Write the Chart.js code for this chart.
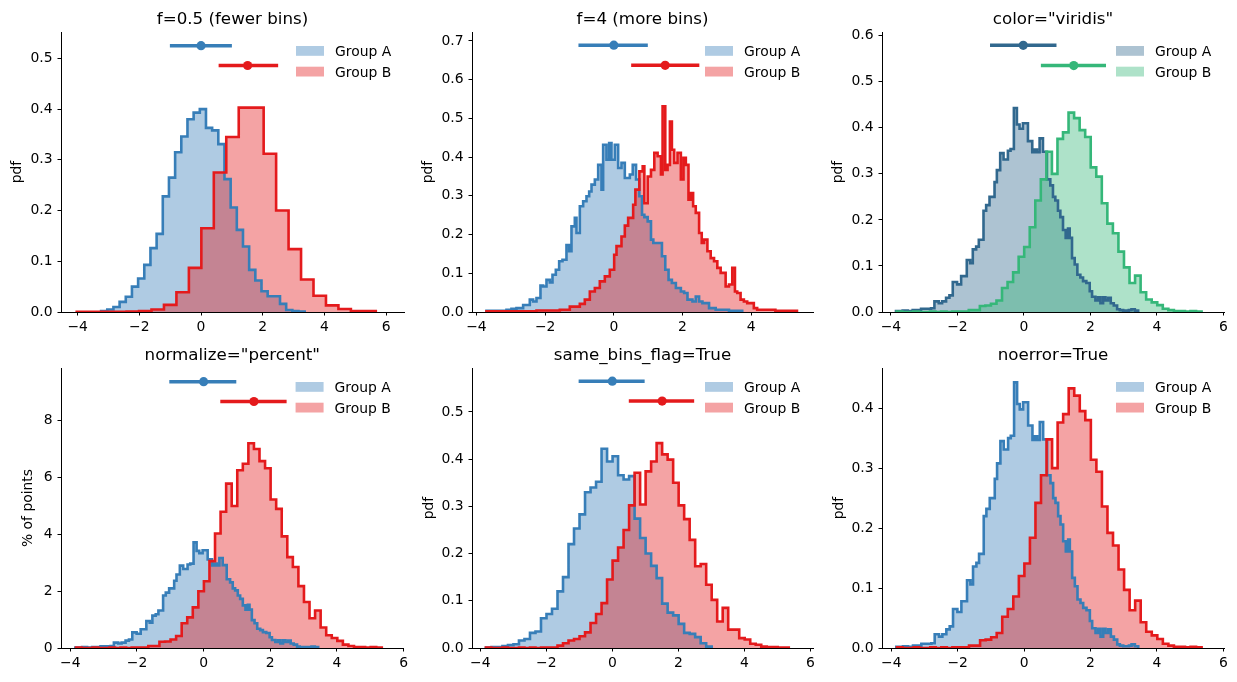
<!DOCTYPE html>
<html>
<head>
<meta charset="utf-8">
<script src="https://cdn.jsdelivr.net/npm/chart.js"></script>
<style>
  body { margin: 0; background: #fff; width: 1237px; height: 682px; position: relative; overflow: hidden; }
  canvas { position: absolute; }
</style>
</head>
<body>
<canvas id="p1"></canvas>
<canvas id="p2"></canvas>
<canvas id="p3"></canvas>
<canvas id="p4"></canvas>
<canvas id="p5"></canvas>
<canvas id="p6"></canvas>
<script>
// ---- tick labels ----
var xTicksWide = [-4, -2, 0, 2, 4, 6];
var xTicksShort = [-4, -2, 0, 2, 4];
var yTicksP1 = [0, 0.1, 0.2, 0.3, 0.4, 0.5];
var yTicksP2 = [0, 0.1, 0.2, 0.3, 0.4, 0.5, 0.6, 0.7];
var yTicksP3 = [0, 0.1, 0.2, 0.3, 0.4, 0.5, 0.6];
var yTicksP4 = [0, 2, 4, 6, 8];
var yTicksP5 = [0, 0.1, 0.2, 0.3, 0.4, 0.5];
var yTicksP6 = [0, 0.1, 0.2, 0.3, 0.4];

var titles = ['f=0.5 (fewer bins)', 'f=4 (more bins)', 'color="viridis"', 'normalize="percent"', 'same_bins_flag=True', 'noerror=True'];
var groups = ['Group A', 'Group B'];

// ---- panel 1: f=0.5, wide bins ----
var fewA_start = -3.24, fewA_width = 0.2;
var fewA_pdf = [0.002, 0.005, 0.01, 0.02, 0.03, 0.05, 0.066, 0.093, 0.126, 0.154, 0.228, 0.265, 0.315, 0.346, 0.38, 0.393, 0.40,
  0.363, 0.358, 0.331, 0.262, 0.206, 0.162, 0.129, 0.083, 0.062, 0.041, 0.031, 0.031, 0.016, 0.004, 0.002, 0.001];
var fewB_start = -4.03, fewB_width = 0.404;
var fewB_pdf = [0.0005, 0.0005, 0.0005, 0.0005, 0.001, 0.002, 0.005, 0.014, 0.039, 0.087, 0.165, 0.275, 0.345, 0.403, 0.403,
  0.312, 0.2, 0.124, 0.064, 0.032, 0.013, 0.006, 0.002, 0.002];

// ---- panel 2: f=4, narrow bins (read as runs of steps) ----
var moreA_edges = [-3.709, -3.126, -2.981, -2.835, -2.641, -2.447, -2.350, -2.252, -2.136, -2.058, -1.961, -1.864, -1.786, -1.689,
  -1.592, -1.495, -1.379, -1.301, -1.233, -1.136, -1.087, -0.990, -0.893, -0.796, -0.718, -0.650, -0.553, -0.456, -0.359, -0.311,
  -0.214, -0.136, -0.068, 0.029, 0.126, 0.223, 0.320, 0.466, 0.551, 0.647, 0.744, 0.821, 0.889, 0.986, 1.082, 1.150, 1.401, 1.498,
  1.594, 1.691, 1.807, 1.952, 2.048, 2.145, 2.290, 2.386, 2.483, 2.580, 2.773, 2.966, 3.353, 3.739];
var moreA_pdf = [0.003, 0.006, 0.008, 0.01, 0.018, 0.032, 0.027, 0.036, 0.068, 0.066, 0.083, 0.076, 0.096, 0.109, 0.131, 0.135,
  0.173, 0.157, 0.221, 0.243, 0.204, 0.273, 0.286, 0.299, 0.311, 0.329, 0.342, 0.38, 0.316, 0.432, 0.393, 0.436, 0.393, 0.432,
  0.372, 0.385, 0.346, 0.355, 0.38, 0.342, 0.299, 0.251, 0.245, 0.234, 0.187, 0.178, 0.144, 0.109, 0.083, 0.075, 0.062, 0.053,
  0.049, 0.032, 0.027, 0.04, 0.027, 0.023, 0.01, 0.006, 0.003];
var moreB_edges = [-3.709, -2.252, -1.573, -1.282, -0.990, -0.845, -0.699, -0.553, -0.408, -0.262, -0.117, 0.010, 0.078, 0.223,
  0.320, 0.417, 0.563, 0.628, 0.744, 0.841, 0.889, 0.986, 1.082, 1.179, 1.275, 1.372, 1.420, 1.498, 1.565, 1.633, 1.691, 1.758,
  1.855, 1.952, 2.029, 2.097, 2.174, 2.242, 2.309, 2.386, 2.483, 2.560, 2.628, 2.725, 2.821, 2.918, 3.014, 3.111, 3.256, 3.353,
  3.449, 3.527, 3.594, 3.691, 3.787, 3.884, 4.077, 4.174, 4.705, 5.333];
var moreB_pdf = [0.002, 0.004, 0.006, 0.014, 0.021, 0.032, 0.053, 0.062, 0.079, 0.092, 0.109, 0.148, 0.17, 0.195, 0.223, 0.243,
  0.277, 0.316, 0.363, 0.376, 0.281, 0.35, 0.367, 0.411, 0.402, 0.355, 0.531, 0.367, 0.38, 0.492, 0.419, 0.385, 0.411, 0.342,
  0.398, 0.38, 0.29, 0.307, 0.273, 0.256, 0.204, 0.178, 0.187, 0.157, 0.139, 0.131, 0.114, 0.101, 0.066, 0.071, 0.114, 0.053,
  0.049, 0.032, 0.027, 0.023, 0.01, 0.006, 0.003];

// ---- default bins (panels 3, 4, 6) ----
var defA_edges = [-3.849, -3.648, -3.497, -3.347, -3.196, -3.095, -2.945, -2.794, -2.693, -2.563, -2.462, -2.342, -2.241, -2.141,
  -2.010, -1.889, -1.719, -1.618, -1.538, -1.437, -1.357, -1.216, -1.136, -1.035, -0.884, -0.814, -0.714, -0.613, -0.482, -0.402,
  -0.302, -0.211, -0.131, -0.030, 0.121, 0.251, 0.322, 0.392, 0.472, 0.573, 0.693, 0.794, 0.874, 0.945, 1.025, 1.096, 1.176,
  1.256, 1.327, 1.377, 1.447, 1.528, 1.608, 1.698, 1.779, 1.879, 1.980, 2.050, 2.151, 2.231, 2.302, 2.382, 2.452, 2.533, 2.613,
  2.704, 2.804, 2.884, 2.985, 3.156, 3.236, 3.337, 3.437];
var defA_pdf = [0.002, 0.003, 0.002, 0.004, 0.004, 0.007, 0.007, 0.008, 0.023, 0.019, 0.023, 0.031, 0.036, 0.065, 0.06, 0.078,
  0.113, 0.106, 0.136, 0.142, 0.157, 0.22, 0.232, 0.25, 0.282, 0.308, 0.345, 0.331, 0.35, 0.354, 0.443, 0.407, 0.398, 0.41,
  0.371, 0.347, 0.353, 0.347, 0.377, 0.348, 0.288, 0.275, 0.25, 0.242, 0.22, 0.206, 0.178, 0.161, 0.181, 0.161, 0.117, 0.103,
  0.081, 0.075, 0.067, 0.063, 0.045, 0.033, 0.025, 0.032, 0.019, 0.032, 0.025, 0.031, 0.019, 0.014, 0.006, 0.004, 0.003, 0.004,
  0.006, 0.003];
var defA_pct = [0.02, 0.03, 0.02, 0.03, 0.03, 0.06, 0.06, 0.07, 0.19, 0.16, 0.19, 0.26, 0.30, 0.55, 0.50, 0.66, 0.95, 0.89,
  1.14, 1.19, 1.32, 1.85, 1.95, 2.10, 2.37, 2.59, 2.90, 2.78, 2.94, 2.97, 3.72, 3.42, 3.34, 3.44, 3.12, 2.91, 2.97, 2.91, 3.17,
  2.92, 2.42, 2.31, 2.10, 2.03, 1.85, 1.73, 1.50, 1.35, 1.52, 1.35, 0.98, 0.87, 0.68, 0.63, 0.56, 0.53, 0.38, 0.28, 0.21, 0.27,
  0.16, 0.27, 0.21, 0.26, 0.16, 0.12, 0.05, 0.03, 0.03, 0.03, 0.05, 0.03];
var defB_start = -3.828, defB_width = 0.1668;
var defB_pdf = [0.001, 0, 0, 0.001, 0, 0, 0.001, 0, 0.001, 0, 0.001, 0.001, 0.001, 0.004, 0.004, 0.013, 0.014, 0.018, 0.025,
  0.052, 0.065, 0.086, 0.12, 0.141, 0.184, 0.242, 0.288, 0.348, 0.30, 0.376, 0.39, 0.433, 0.421, 0.395, 0.38, 0.314, 0.294,
  0.236, 0.192, 0.171, 0.131, 0.097, 0.063, 0.079, 0.043, 0.027, 0.021, 0.015, 0.007, 0.004, 0.002, 0.002, 0.001, 0.002, 0.001];
var defB_pct = [0.02, 0, 0, 0.02, 0, 0, 0.02, 0, 0.02, 0, 0.02, 0.02, 0.02, 0.07, 0.07, 0.22, 0.23, 0.30, 0.42, 0.87, 1.08,
  1.43, 2.00, 2.35, 3.06, 4.03, 4.80, 5.79, 5.00, 6.26, 6.49, 7.21, 7.01, 6.58, 6.33, 5.23, 4.90, 3.93, 3.20, 2.85, 2.18, 1.62,
  1.05, 1.32, 0.72, 0.45, 0.35, 0.25, 0.12, 0.07, 0.03, 0.03, 0.02, 0.03, 0.02];

// ---- panel 5: both groups on the group B bins ----
var sameA_pdf = [0.001, 0.002, 0.002, 0.004, 0.006, 0.008, 0.016, 0.019, 0.032, 0.035, 0.063, 0.072, 0.083, 0.12, 0.15, 0.22,
  0.253, 0.283, 0.33, 0.34, 0.352, 0.422, 0.395, 0.406, 0.366, 0.357, 0.364, 0.274, 0.233, 0.2, 0.174, 0.148, 0.094, 0.075,
  0.069, 0.051, 0.032, 0.03, 0.023, 0.01, 0.003];
var sameB_pdf = [0.001, 0, 0, 0.001, 0, 0, 0.001, 0, 0.001, 0, 0.001, 0.001, 0.001, 0.005, 0.01, 0.016, 0.019, 0.025, 0.033,
  0.053, 0.072, 0.095, 0.145, 0.185, 0.213, 0.25, 0.302, 0.371, 0.304, 0.374, 0.395, 0.434, 0.41, 0.399, 0.35, 0.302, 0.273,
  0.229, 0.173, 0.178, 0.134, 0.102, 0.056, 0.085, 0.039, 0.039, 0.021, 0.018, 0.009, 0.007, 0.003, 0.002, 0.002, 0.001, 0.001];

// ---- error bars (panels 1..5): low, mean, high and height ----
var errA_lo = [-1.01, -1.03, -1.02, -1.03, -1.02];
var errA_mid = [0.0, 0.0, -0.02, 0.0, 0.0];
var errA_hi = [1.0, 0.99, 0.98, 0.98, 0.98];
var errA_y = [0.525, 0.689, 0.579, 9.38, 0.565];
var errB_lo = [0.57, 0.505, 0.51, 0.5, 0.5];
var errB_mid = [1.51, 1.495, 1.5, 1.51, 1.51];
var errB_hi = [2.5, 2.49, 2.47, 2.49, 2.48];
var errB_y = [0.486, 0.637, 0.535, 8.68, 0.523];

// colours
var set1 = { a: '#377eb8', b: '#e41a1c', aFill: 'rgba(55,126,184,0.4)', bFill: 'rgba(228,26,28,0.4)' };
var virid = { a: '#31688e', b: '#35b779', aFill: 'rgba(49,104,142,0.4)', bFill: 'rgba(53,183,121,0.4)' };

var FONT = '"DejaVu Sans", sans-serif';
Chart.defaults.font.family = FONT;
Chart.defaults.color = '#000';

function edgesFrom(start, width, n) {
  var e = [];
  for (var i = 0; i <= n; i++) e.push(start + i * width);
  return e;
}

// step outline: up at the first edge, across every bin, down at the last edge
function steps(edges, h) {
  var pts = [{ x: edges[0], y: 0 }];
  for (var i = 0; i < h.length; i++) pts.push({ x: edges[i], y: h[i] });
  pts.push({ x: edges[h.length], y: 0 });
  return pts;
}

function histSet(edges, h, line, fill) {
  return { data: steps(edges, h), borderColor: line, backgroundColor: fill, borderWidth: 2.6,
    pointRadius: 0, stepped: 'before', fill: 'origin' };
}

function errSets(i, col) {
  return [
    { data: [{ x: errA_lo[i], y: errA_y[i] }, { x: errA_hi[i], y: errA_y[i] }], borderColor: col.a, borderWidth: 3.5, pointRadius: 0, fill: false },
    { data: [{ x: errA_mid[i], y: errA_y[i] }], showLine: false, pointRadius: 4.6, pointBackgroundColor: col.a, pointBorderWidth: 0, borderColor: col.a, fill: false },
    { data: [{ x: errB_lo[i], y: errB_y[i] }, { x: errB_hi[i], y: errB_y[i] }], borderColor: col.b, borderWidth: 3.5, pointRadius: 0, fill: false },
    { data: [{ x: errB_mid[i], y: errB_y[i] }], showLine: false, pointRadius: 4.6, pointBackgroundColor: col.b, pointBorderWidth: 0, borderColor: col.b, fill: false }
  ];
}

function fmt(v, d) {
  return (v < 0 ? '\u2212' : '') + Math.abs(v).toFixed(d);
}

function panel(id, box, p) {
  var cv = document.getElementById(id);
  var w = box.R - box.L + 68, h = box.B - box.T + 64;
  cv.width = w; cv.height = h;
  cv.style.left = (box.L - 60) + 'px';
  cv.style.top = (box.T - 32) + 'px';
  cv.style.width = w + 'px';
  cv.style.height = h + 'px';

  // title and legend, drawn in the axes like the original
  var decor = {
    id: 'decor',
    afterDraw: function (chart) {
      var a = chart.chartArea, ctx = chart.ctx;
      ctx.save();
      ctx.fillStyle = '#000';
      ctx.font = '16.7px ' + FONT;
      ctx.textAlign = 'center';
      ctx.textBaseline = 'alphabetic';
      ctx.fillText(p.title, (a.left + a.right) / 2, a.top - 8.5);
      ctx.font = '13.9px ' + FONT;
      ctx.textAlign = 'left';
      var fills = [p.col.aFill, p.col.bFill];
      for (var i = 0; i < 2; i++) {
        ctx.fillStyle = fills[i];
        ctx.fillRect(a.right - 108, a.top + 14 + i * 20.7, 28, 9.8);
        ctx.fillStyle = '#000';
        ctx.fillText(groups[i], a.right - 69, a.top + 24 + i * 20.7);
      }
      ctx.restore();
    }
  };

  var tickFont = { family: FONT, size: 13.9 };
  new Chart(cv.getContext('2d'), {
    type: 'line',
    data: { datasets: p.datasets },
    options: {
      responsive: false,
      animation: false,
      devicePixelRatio: 1,
      layout: { padding: { top: 32, right: 8, left: 0, bottom: 0 } },
      plugins: { legend: { display: false }, tooltip: { enabled: false }, filler: { drawTime: 'beforeDatasetsDraw' } },
      scales: {
        x: {
          type: 'linear', min: p.xmin, max: p.xmax,
          afterFit: function (s) { s.height = 32; },
          afterBuildTicks: function (s) { s.ticks = p.xt.map(function (v) { return { value: v }; }); },
          grid: { drawOnChartArea: false, drawTicks: true, tickLength: 3.5, color: '#000' },
          border: { display: true, color: '#000', width: 1 },
          ticks: { font: tickFont, color: '#000', padding: 4, maxRotation: 0, autoSkip: false,
            callback: function (v) { return fmt(v, 0); } }
        },
        y: {
          type: 'linear', min: 0, max: p.ymax,
          afterFit: function (s) { s.width = 60; },
          afterBuildTicks: function (s) { s.ticks = p.yt.map(function (v) { return { value: v }; }); },
          grid: { drawOnChartArea: false, drawTicks: true, tickLength: 3.5, color: '#000' },
          border: { display: true, color: '#000', width: 1 },
          ticks: { font: tickFont, color: '#000', padding: 5, autoSkip: false,
            callback: function (v) { return fmt(v, p.yd); } },
          title: { display: true, text: p.ylabel, font: tickFont, color: '#000', padding: { top: p.ylPad, bottom: 0 } }
        }
      }
    },
    plugins: [decor]
  });
}

var defB_edges = edgesFrom(defB_start, defB_width, defB_pdf.length);

panel('p1', { L: 61, T: 32, R: 404, B: 312 }, {
  title: titles[0], col: set1, xmin: -4.54, xmax: 6.58, ymax: 0.552, xt: xTicksWide, yt: yTicksP1, yd: 1, ylabel: 'pdf', ylPad: 8.2,
  datasets: errSets(0, set1).concat([
    histSet(edgesFrom(fewB_start, fewB_width, fewB_pdf.length), fewB_pdf, set1.b, set1.bFill),
    histSet(edgesFrom(fewA_start, fewA_width, fewA_pdf.length), fewA_pdf, set1.a, set1.aFill)])
});

panel('p2', { L: 472, T: 32, R: 813, B: 312 }, {
  title: titles[1], col: set1, xmin: -4.13, xmax: 5.8, ymax: 0.723, xt: xTicksShort, yt: yTicksP2, yd: 1, ylabel: 'pdf', ylPad: 8.2,
  datasets: errSets(1, set1).concat([
    histSet(moreB_edges, moreB_pdf, set1.b, set1.bFill),
    histSet(moreA_edges, moreA_pdf, set1.a, set1.aFill)])
});

panel('p3', { L: 882, T: 32, R: 1224, B: 312 }, {
  title: titles[2], col: virid, xmin: -4.27, xmax: 6.02, ymax: 0.608, xt: xTicksWide, yt: yTicksP3, yd: 1, ylabel: 'pdf', ylPad: 8.2,
  datasets: errSets(2, virid).concat([
    histSet(defB_edges, defB_pdf, virid.b, virid.bFill),
    histSet(defA_edges, defA_pdf, virid.a, virid.aFill)])
});

panel('p4', { L: 61, T: 368, R: 404, B: 648 }, {
  title: titles[3], col: set1, xmin: -4.28, xmax: 6.0, ymax: 9.86, xt: xTicksWide, yt: yTicksP4, yd: 0, ylabel: '% of points', ylPad: 18.7,
  datasets: errSets(3, set1).concat([
    histSet(defB_edges, defB_pct, set1.b, set1.bFill),
    histSet(defA_edges, defA_pct, set1.a, set1.aFill)])
});

panel('p5', { L: 472, T: 368, R: 813, B: 648 }, {
  title: titles[4], col: set1, xmin: -4.25, xmax: 6.08, ymax: 0.593, xt: xTicksWide, yt: yTicksP5, yd: 1, ylabel: 'pdf', ylPad: 8.7,
  datasets: errSets(4, set1).concat([
    histSet(defB_edges, sameB_pdf, set1.b, set1.bFill),
    histSet(defB_edges, sameA_pdf, set1.a, set1.aFill)])
});

panel('p6', { L: 882, T: 368, R: 1224, B: 648 }, {
  title: titles[5], col: set1, xmin: -4.28, xmax: 6.02, ymax: 0.467, xt: xTicksWide, yt: yTicksP6, yd: 1, ylabel: 'pdf', ylPad: 8.7,
  datasets: [
    histSet(defB_edges, defB_pdf, set1.b, set1.bFill),
    histSet(defA_edges, defA_pdf, set1.a, set1.aFill)]
});
</script>
</body>
</html>
